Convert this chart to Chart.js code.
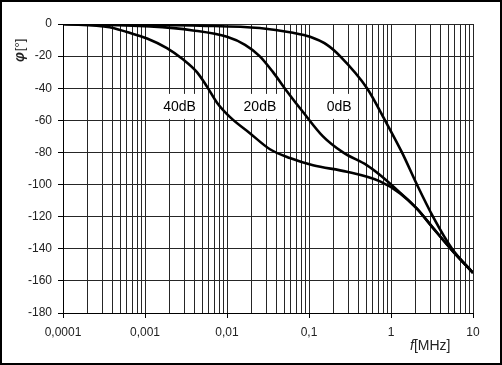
<!DOCTYPE html>
<html>
<head>
<meta charset="utf-8">
<script src="https://cdn.jsdelivr.net/npm/chart.js@4/dist/chart.umd.min.js"></script>
<style>
  html, body { margin: 0; padding: 0; background: #fff; }
  #wrap { width: 502px; height: 365px; }
</style>
</head>
<body>
<div id="wrap"><canvas id="phaseChart" width="502" height="365"></canvas></div>
<script>
// frequencies [MHz] and phase [deg]
const freq40 = [0.0001, 0.00037, 0.0006, 0.00106, 0.00185, 0.0029, 0.0043, 0.0057, 0.00755, 0.0109, 0.019, 0.0334, 0.0586, 0.112, 0.29, 0.735, 1.29, 2.07, 3.25, 5.55, 10];
const phase40 = [0, -2, -5, -9, -15, -22, -30, -39, -49, -58, -68, -78, -83.5, -88, -92, -98, -105.5, -115, -127, -141, -155];

const freq20 = [0.0001, 0.00115, 0.00385, 0.01, 0.0166, 0.025, 0.0364, 0.054, 0.085, 0.148, 0.26, 0.51, 0.735, 1.29, 2.07, 3.25, 5.55, 10];
const phase20 = [0, -1.5, -4, -8, -13, -20, -30, -42, -55, -70, -80, -88, -94, -105, -115, -127, -141, -155];

const freq0 = [0.0001, 0.00115, 0.0047, 0.025, 0.0637, 0.103, 0.166, 0.239, 0.51, 0.845, 1.36, 2.07, 3.25, 5.55, 10];
const phase0 = [0, -0.5, -1, -2.5, -5.5, -8, -13, -20, -40, -60, -80, -100, -120, -140, -155];

const curveNames = ['40dB', '20dB', '0dB'];
const curveLabelFreq = [0.00264, 0.0252, 0.233];
const curveLabelPhase = [-51, -51, -51];

const decades = [0.0001, 0.001, 0.01, 0.1, 1, 10];
const xTickLabels = ['0,0001', '0,001', '0,01', '0,1', '1', '10'];

const xMinorTicks = [];
decades.forEach((d, i) => {
    if (i === decades.length - 1) { xMinorTicks.push(d); return; }
    for (let m = 1; m <= 9; m++) xMinorTicks.push(d * m);
});

const isDecade = v => decades.findIndex(d => Math.abs(v - d) / d < 1e-6);

const toPoints = (xs, ys) => xs.map((x, i) => ({ x, y: ys[i] }));

const gridCol = '#262626';
const textCol = '#222';

// border, axis titles and the boxed curve names
const extras = {
    id: 'extras',
    beforeDatasetsDraw(chart) {
        const { ctx, scales: { x, y } } = chart;
        ctx.save();
        ctx.font = '14px "Liberation Sans", Arial, sans-serif';
        ctx.textAlign = 'center';
        ctx.textBaseline = 'middle';
        curveNames.forEach((name, i) => {
            const px = x.getPixelForValue(curveLabelFreq[i]);
            const py = y.getPixelForValue(curveLabelPhase[i]);
            const w = ctx.measureText(name).width + 12;
            ctx.fillStyle = '#fff';
            ctx.fillRect(px - w / 2, py - 12, w, 25);
            ctx.fillStyle = '#000';
            ctx.fillText(name, px, py + 1);
        });
        ctx.restore();
    },
    afterDraw(chart) {
        const { ctx, chartArea } = chart;
        ctx.save();
        ctx.strokeStyle = '#000';
        ctx.lineWidth = 2;
        ctx.strokeRect(1, 1, chart.width - 2, chart.height - 2);

        // x title: f[MHz]
        ctx.fillStyle = textCol;
        ctx.textBaseline = 'middle';
        ctx.textAlign = 'left';
        const tx = chartArea.right - 63, ty = chartArea.bottom + 33;
        ctx.font = 'italic 14px "Liberation Sans", Arial, sans-serif';
        ctx.fillText('f', tx, ty);
        const fw = ctx.measureText('f').width;
        ctx.font = '14px "Liberation Sans", Arial, sans-serif';
        ctx.fillText('[MHz]', tx + fw, ty);

        // y title: φ[°]
        ctx.translate(20, chartArea.top + 38);
        ctx.rotate(-Math.PI / 2);
        ctx.font = 'bold italic 14px "Liberation Sans", Arial, sans-serif';
        ctx.fillText('φ', 0, 0);
        const pw = ctx.measureText('φ').width;
        ctx.font = '13px "Liberation Sans", Arial, sans-serif';
        ctx.fillText('[°]', pw + 1, 0);
        ctx.restore();
    }
};

const lineStyle = {
    borderColor: '#000',
    borderWidth: 2.6,
    pointRadius: 0,
    fill: false,
    cubicInterpolationMode: 'monotone'
};

new Chart(document.getElementById('phaseChart'), {
    type: 'line',
    data: {
        datasets: [
            { label: curveNames[0], data: toPoints(freq40, phase40), ...lineStyle },
            { label: curveNames[1], data: toPoints(freq20, phase20), ...lineStyle },
            { label: curveNames[2], data: toPoints(freq0, phase0), ...lineStyle }
        ]
    },
    options: {
        responsive: false,
        animation: false,
        layout: { padding: { left: 0, right: 29, top: 24, bottom: 0 } },
        plugins: {
            legend: { display: false },
            tooltip: { enabled: false }
        },
        scales: {
            x: {
                type: 'logarithmic',
                min: 0.0001,
                max: 10,
                afterBuildTicks: scale => {
                    scale.ticks = xMinorTicks.map(v => ({ value: v }));
                },
                afterFit: scale => { scale.height = 52; },
                border: { color: '#000', width: 1 },
                grid: {
                    color: gridCol,
                    lineWidth: 1,
                    tickLength: 5,
                    tickColor: c => isDecade(c.tick.value) >= 0 ? '#000' : 'rgba(0,0,0,0)'
                },
                ticks: {
                    autoSkip: false,
                    maxRotation: 0,
                    padding: 7,
                    color: textCol,
                    font: { family: '"Liberation Sans", Arial, sans-serif', size: 12 },
                    callback: v => {
                        const i = isDecade(v);
                        return i >= 0 ? xTickLabels[i] : '';
                    }
                }
            },
            y: {
                min: -180,
                max: 0,
                afterFit: scale => { scale.width = 63; },
                border: { color: '#000', width: 1 },
                grid: { color: gridCol, lineWidth: 1, tickLength: 5, tickColor: '#000' },
                ticks: {
                    stepSize: 20,
                    padding: 6,
                    color: textCol,
                    font: { family: '"Liberation Sans", Arial, sans-serif', size: 12 }
                }
            }
        }
    },
    plugins: [extras]
});
</script>
</body>
</html>
